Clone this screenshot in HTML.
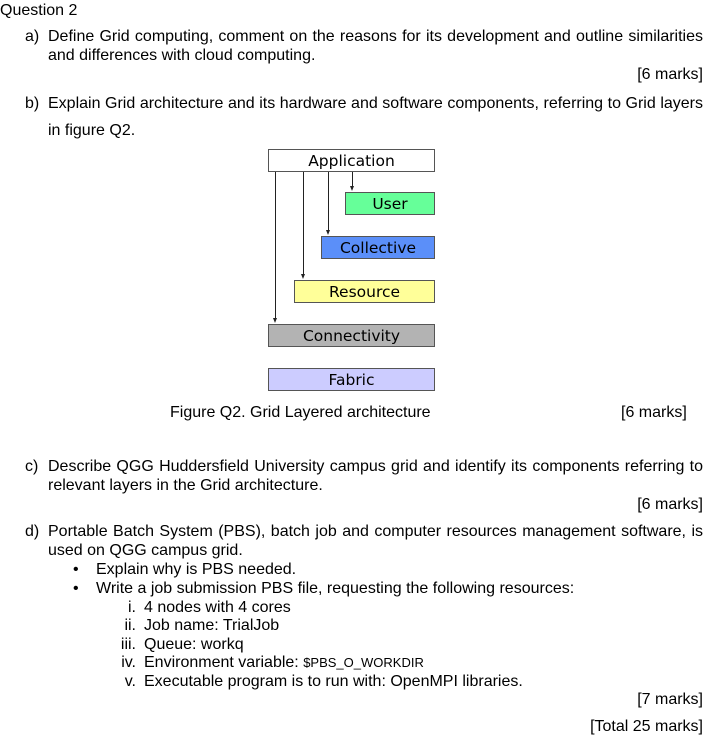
<!DOCTYPE html>
<html><head><meta charset="utf-8"><style>
body{margin:0;width:718px;height:749px;background:#fff;position:relative;overflow:hidden;font-family:"Liberation Sans",Arial,sans-serif;font-size:16px;color:#000}
.t{position:absolute;white-space:nowrap;line-height:18px}
.j{position:absolute;left:48px;width:655px;text-align:justify;text-align-last:justify;line-height:18px;white-space:nowrap}
.r{position:absolute;right:15px;line-height:18px}
.box{position:absolute;border:1px solid #555;box-sizing:border-box;text-align:center;font-family:"DejaVu Sans",Verdana,sans-serif;font-size:15.5px;line-height:23px;height:23px}
.vl{position:absolute;width:1px;background:#222}
.ah{position:absolute;width:0;height:0;border-left:2.5px solid transparent;border-right:2.5px solid transparent;border-top:5px solid #222}
.rn{position:absolute;width:40px;text-align:right;line-height:18px}
</style></head><body>
<div class="t" style="left:0;top:2px">Question 2</div>
<div class="t" style="left:25px;top:28px">a)</div>
<div class="j" style="top:28px">Define Grid computing, comment on the reasons for its development and outline similarities</div>
<div class="t" style="left:48px;top:47px">and differences with cloud computing.</div>
<div class="r" style="top:66px">[6 marks]</div>
<div class="t" style="left:25px;top:95px">b)</div>
<div class="j" style="top:95px">Explain Grid architecture and its hardware and software components, referring to Grid layers</div>
<div class="t" style="left:48px;top:122px">in figure Q2.</div>

<div class="box" style="left:268px;top:149px;width:167px;background:#fff">Application</div>
<div class="box" style="left:345px;top:192px;width:90px;background:#66ff99">User</div>
<div class="box" style="left:321px;top:236px;width:114px;background:#5b8ff9">Collective</div>
<div class="box" style="left:294px;top:280px;width:141px;background:#ffff99">Resource</div>
<div class="box" style="left:268px;top:324px;width:167px;background:#b3b3b3">Connectivity</div>
<div class="box" style="left:268px;top:368px;width:167px;background:#ccccff">Fabric</div>
<div class="vl" style="left:275px;top:172px;height:146px"></div><div class="ah" style="left:273px;top:318px"></div>
<div class="vl" style="left:303px;top:172px;height:102px"></div><div class="ah" style="left:301px;top:274px"></div>
<div class="vl" style="left:328px;top:172px;height:58px"></div><div class="ah" style="left:326px;top:230px"></div>
<div class="vl" style="left:352px;top:172px;height:14px"></div><div class="ah" style="left:350px;top:186px"></div>

<div class="t" style="left:170px;top:404px">Figure Q2. Grid Layered architecture</div>
<div class="t" style="left:621px;top:404px">[6 marks]</div>

<div class="t" style="left:25px;top:458px">c)</div>
<div class="j" style="top:458px">Describe QGG Huddersfield University campus grid and identify its components referring to</div>
<div class="t" style="left:48px;top:477px">relevant layers in the Grid architecture.</div>
<div class="r" style="top:496px">[6 marks]</div>
<div class="t" style="left:25px;top:523px">d)</div>
<div class="j" style="top:523px">Portable Batch System (PBS), batch job and computer resources management software, is</div>
<div class="t" style="left:48px;top:542px">used on QGG campus grid.</div>
<div class="t" style="left:73px;top:561px">•</div>
<div class="t" style="left:96px;top:561px">Explain why is PBS needed.</div>
<div class="t" style="left:73px;top:580px">•</div>
<div class="t" style="left:96px;top:580px">Write a job submission PBS file, requesting the following resources:</div>
<div class="rn" style="left:96px;top:599px">i.</div><div class="t" style="left:144px;top:599px">4 nodes with 4 cores</div>
<div class="rn" style="left:96px;top:617px">ii.</div><div class="t" style="left:144px;top:617px">Job name: TrialJob</div>
<div class="rn" style="left:96px;top:636px">iii.</div><div class="t" style="left:144px;top:636px">Queue: workq</div>
<div class="rn" style="left:96px;top:654px">iv.</div><div class="t" style="left:144px;top:654px">Environment variable: <span style="font-size:13px">$PBS_O_WORKDIR</span></div>
<div class="rn" style="left:96px;top:673px">v.</div><div class="t" style="left:144px;top:673px">Executable program is to run with: OpenMPI libraries.</div>
<div class="r" style="top:691px">[7 marks]</div>
<div class="r" style="top:718px">[Total 25 marks]</div>
</body></html>
